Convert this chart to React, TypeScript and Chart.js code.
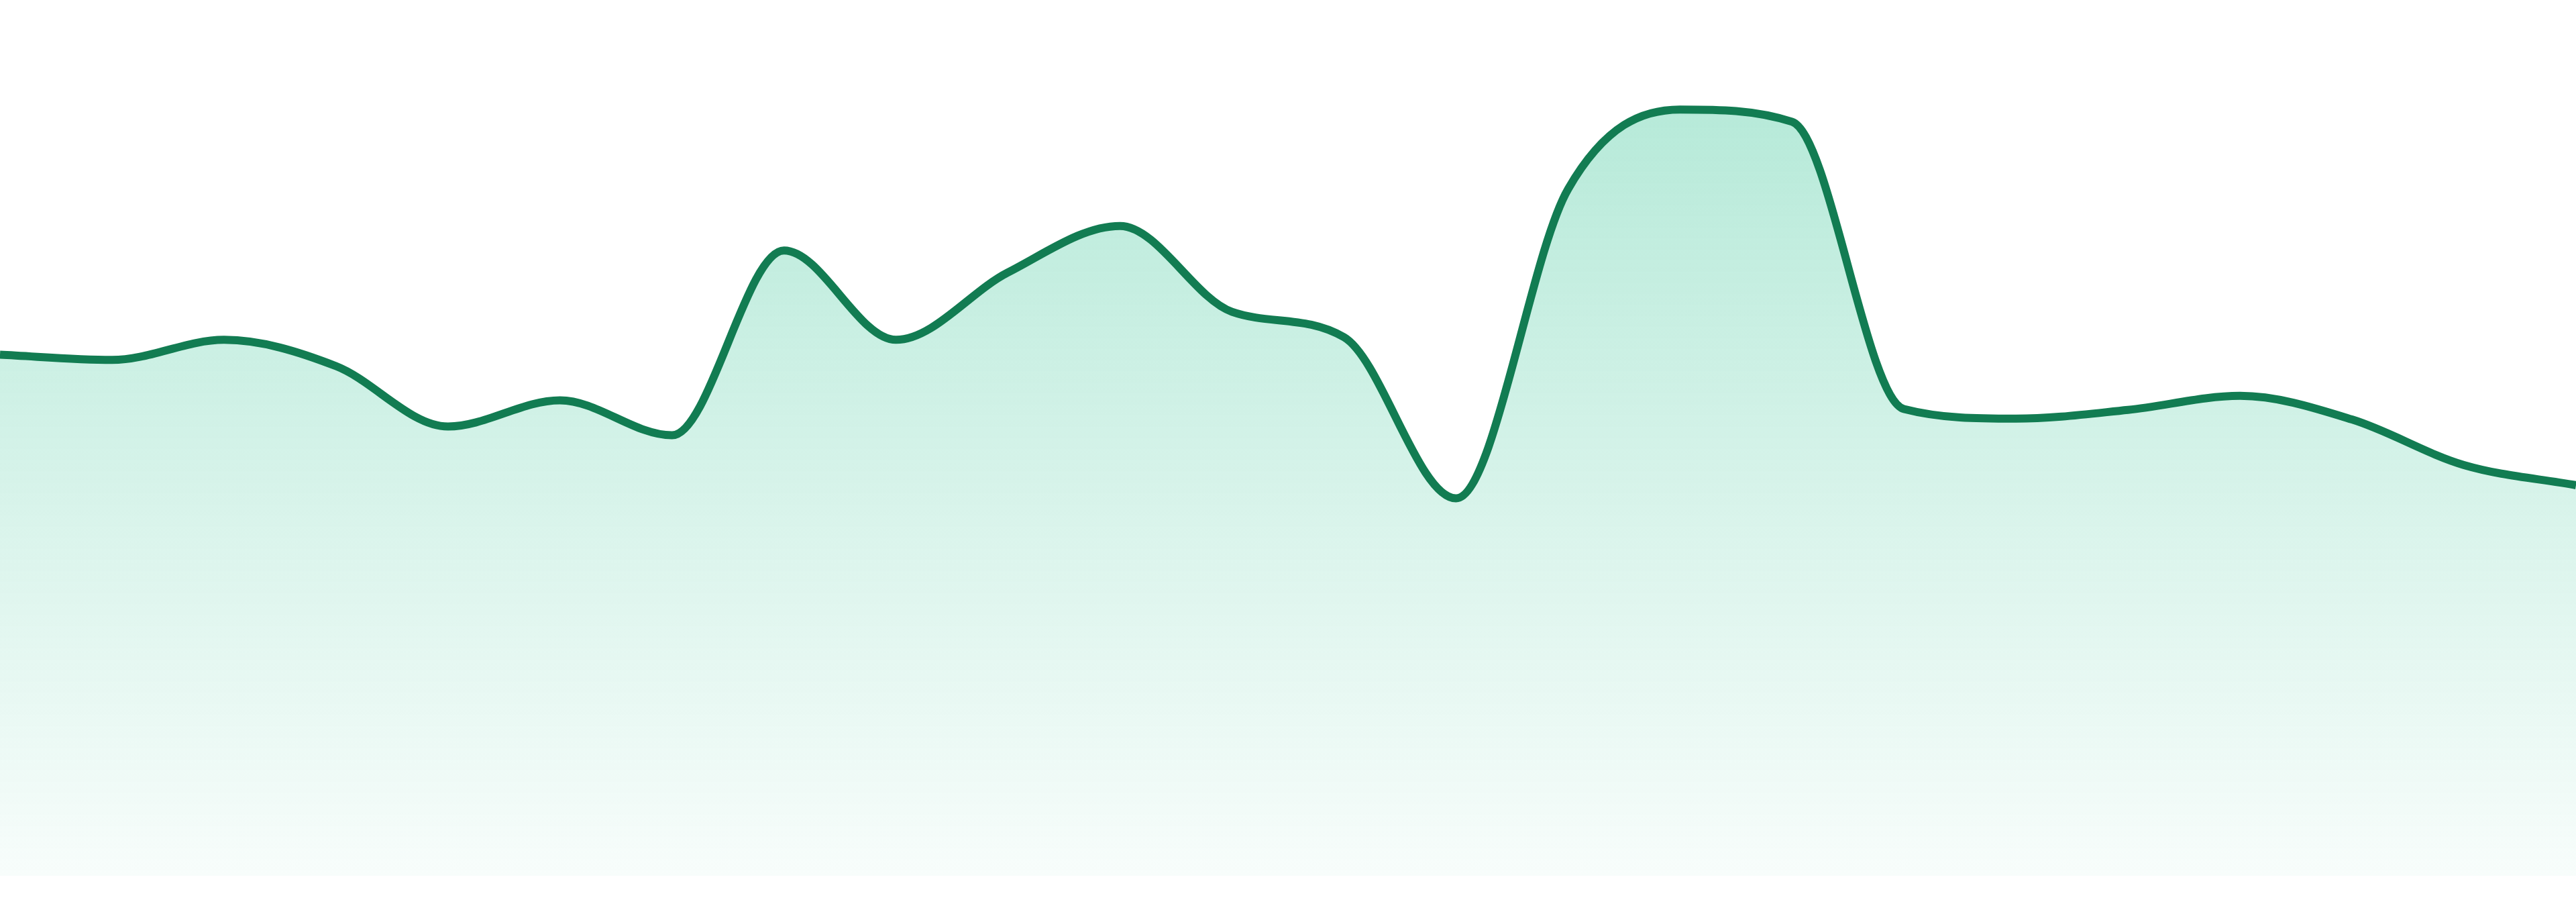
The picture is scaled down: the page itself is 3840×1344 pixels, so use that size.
import { useEffect, useRef } from "react";
import { Chart, ChartOptions, registerables } from "chart.js";

Chart.register(...registerables);

// 24 evenly spaced samples
const labels = [
  "P1", "P2", "P3", "P4", "P5", "P6", "P7", "P8", "P9", "P10", "P11", "P12",
  "P13", "P14", "P15", "P16", "P17", "P18", "P19", "P20", "P21", "P22", "P23", "P24",
];

const values = [
  59.5, 58.9, 61.2, 58.2, 51.3, 54.3, 50.3, 71.4, 61.2, 68.9, 74.2, 64.4,
  61.5, 43.1, 78.4, 87.5, 86.1, 53.3, 52.2, 53.2, 54.8, 52.1, 46.9, 44.6,
];

const yMin = 0;
const yMax = 100;

const lineColor = "#127c52";

export default function App() {
  const chartRef = useRef<HTMLCanvasElement>(null);
  const chartInstance = useRef<Chart | null>(null);

  useEffect(() => {
    if (!chartRef.current) return;

    if (chartInstance.current) {
      chartInstance.current.destroy();
    }

    const ctx = chartRef.current.getContext("2d");
    if (!ctx) return;

    const options: ChartOptions<"line"> = {
      responsive: true,
      maintainAspectRatio: false,
      animation: false,
      layout: { padding: 0 },
      plugins: {
        legend: { display: false },
        tooltip: { enabled: false },
      },
      elements: {
        point: { radius: 0, hoverRadius: 0 },
      },
      scales: {
        x: {
          display: false,
          offset: false,
          grid: { display: false },
        },
        y: {
          display: false,
          min: yMin,
          max: yMax,
          grid: { display: false },
        },
      },
    };

    chartInstance.current = new Chart(ctx, {
      type: "line",
      data: {
        labels,
        datasets: [
          {
            data: values,
            borderColor: lineColor,
            borderWidth: 12,
            cubicInterpolationMode: "monotone",
            fill: "origin",
            backgroundColor: (context) => {
              const { chart } = context;
              const area = chart.chartArea;
              if (!area) return "rgba(16, 185, 129, 0.2)";
              const g = chart.ctx.createLinearGradient(0, area.top, 0, area.bottom);
              g.addColorStop(0, "rgba(16, 185, 129, 0.34)");
              g.addColorStop(1, "rgba(16, 185, 129, 0.03)");
              return g;
            },
          },
        ],
      },
      options,
    });

    return () => {
      if (chartInstance.current) {
        chartInstance.current.destroy();
        chartInstance.current = null;
      }
    };
  }, []);

  return (
    <div
      style={{
        position: "fixed",
        left: 0,
        top: 0,
        width: "100vw",
        height: "1305px",
        background: "#ffffff",
      }}
    >
      <canvas ref={chartRef}></canvas>
    </div>
  );
}
